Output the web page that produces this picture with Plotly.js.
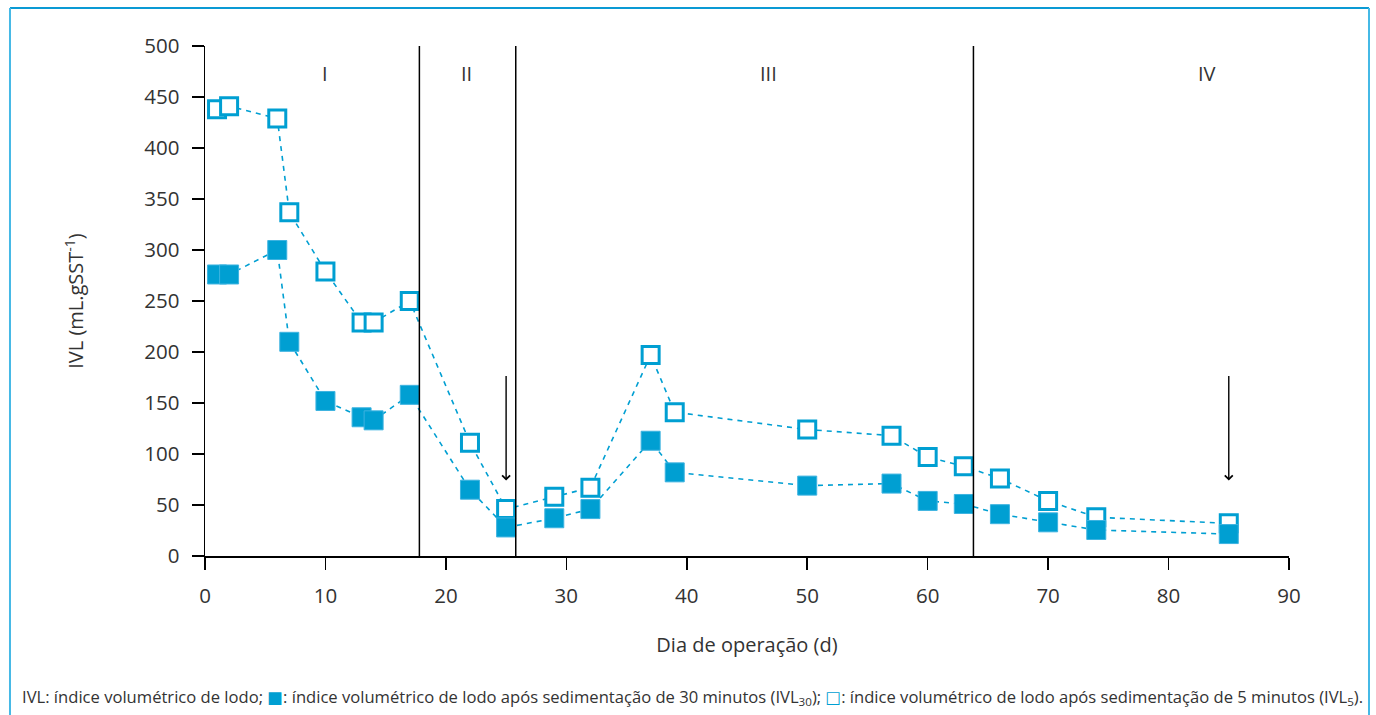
<!DOCTYPE html>
<html>
<head>
<meta charset="utf-8">
<script src="https://cdn.plot.ly/plotly-3.0.1.min.js"></script>
<style>html,body{margin:0;padding:0;background:#fff;}#chart{width:1376px;height:715px;}</style>
</head>
<body>
<div id="chart"></div>
<script>
// Day of operation
var days = [1, 2, 6, 7, 10, 13, 14, 17, 22, 25, 29, 32, 37, 39, 50, 57, 60, 63, 66, 70, 74, 85];
// IVL30 (filled squares)
var ivl30 = [276, 276, 300, 210, 152, 136, 133, 158, 65, 28, 37, 46, 113, 82, 69, 71, 54, 51, 41, 33, 25.5, 21.5];
// IVL5 (open squares)
var ivl5 = [438, 441, 429, 337, 279, 229, 229, 250, 111, 46, 58, 67, 197, 141, 124, 118, 97, 88, 76, 54, 38, 32];

// Phase boundaries and labels
var phaseBoundaries = [17.8, 25.8, 63.8];
var phaseLabels = ['I', 'II', 'III', 'IV'];
var phaseLabelX = [10, 21.7, 46.8, 83.2];
var phaseLabelY = 473;

// Arrows (day, from, to)
var arrowDays = [25, 85];
var arrowFrom = 178;
var arrowTo = 74;

var xTicks = [0, 10, 20, 30, 40, 50, 60, 70, 80, 90];
var yTicks = [0, 50, 100, 150, 200, 250, 300, 350, 400, 450, 500];

var blue = '#009fd2';
var textColor = '#333333';
var fontFam = '"Open Sans", "DejaVu Sans", sans-serif';

var traces = [
  {
    x: days, y: ivl5, type: 'scatter', mode: 'lines+markers',
    line: {color: blue, width: 1.6, dash: '5px,5px'},
    marker: {symbol: 'square', size: 17, color: '#ffffff', line: {color: blue, width: 3}},
    showlegend: false, hoverinfo: 'x+y'
  },
  {
    x: days, y: ivl30, type: 'scatter', mode: 'lines+markers',
    line: {color: blue, width: 1.6, dash: '5px,5px'},
    marker: {symbol: 'square', size: 19, color: blue, line: {color: '#3db3e0', width: 1}},
    showlegend: false, hoverinfo: 'x+y'
  }
];

var shapes = [];
phaseBoundaries.forEach(function (b) {
  shapes.push({type: 'line', xref: 'x', yref: 'y', x0: b, x1: b, y0: 0, y1: 500,
    line: {color: '#000000', width: 1.5}});
});
// decorative frame
shapes.push({type: 'line', xref: 'paper', yref: 'paper', x0: -0.1799, x1: 1.0738, y0: 1.0745, y1: 1.0745,
  line: {color: '#0a9ad4', width: 2}});
shapes.push({type: 'line', xref: 'paper', yref: 'paper', x0: -0.1799, x1: -0.1799, y0: 1.0745, y1: -0.35,
  line: {color: '#45b9e6', width: 2}});
shapes.push({type: 'line', xref: 'paper', yref: 'paper', x0: 1.0738, x1: 1.0738, y0: 1.0745, y1: -0.35,
  line: {color: '#45b9e6', width: 2}});

var annotations = [];
phaseLabels.forEach(function (t, i) {
  annotations.push({x: phaseLabelX[i], y: phaseLabelY, xref: 'x', yref: 'y', text: t, showarrow: false,
    font: {family: fontFam, size: 20, color: textColor}});
});
arrowDays.forEach(function (d) {
  annotations.push({x: d, y: arrowTo, ax: d, ay: arrowFrom, xref: 'x', yref: 'y', axref: 'x', ayref: 'y',
    text: '', showarrow: true, arrowhead: 4, arrowsize: 1.1, arrowwidth: 1.4, arrowcolor: '#000000', standoff: 0});
});
annotations.push({
  xref: 'paper', yref: 'paper', x: -0.1707, y: -0.277, xanchor: 'left', yanchor: 'middle', showarrow: false,
  align: 'left',
  text: 'IVL: índice volumétrico de lodo; <span style="color:' + blue + '">■</span>: índice volumétrico de lodo após sedimentação de 30 minutos (IVL<sub>30</sub>); <span style="color:' + blue + '">□</span>: índice volumétrico de lodo após sedimentação de 5 minutos (IVL<sub>5</sub>).',
  font: {family: fontFam, size: 16.6, color: textColor}
});

var layout = {
  width: 1376, height: 715,
  margin: {l: 205, r: 87, t: 46, b: 159},
  paper_bgcolor: '#ffffff', plot_bgcolor: '#ffffff',
  font: {family: fontFam, color: textColor, size: 20},
  showlegend: false,
  xaxis: {
    range: [0, 90], tickvals: xTicks, ticktext: xTicks.map(String),
    showline: true, linecolor: '#000000', linewidth: 1.5,
    ticks: 'outside', ticklen: 12, tickwidth: 1.5, tickcolor: '#000000',
    showgrid: false, zeroline: false,
    tickfont: {family: fontFam, size: 20.5, color: textColor},
    ticklabelstandoff: 9,
    title: {text: 'Dia de operação (d)', font: {family: fontFam, size: 20, color: textColor}, standoff: 30}
  },
  yaxis: {
    range: [0, 500], tickvals: yTicks, ticktext: yTicks.map(String),
    showline: true, linecolor: '#000000', linewidth: 1.5,
    ticks: 'outside', ticklen: 12, tickwidth: 1.5, tickcolor: '#000000',
    showgrid: false, zeroline: false,
    tickfont: {family: fontFam, size: 20.5, color: textColor},
    ticklabelstandoff: 8,
    title: {text: 'IVL (mL.gSST<sup>-1</sup>)', font: {family: fontFam, size: 20, color: textColor}, standoff: 55}
  },
  shapes: shapes,
  annotations: annotations
};

Plotly.newPlot('chart', traces, layout, {displayModeBar: false, staticPlot: true});
</script>
</body>
</html>
